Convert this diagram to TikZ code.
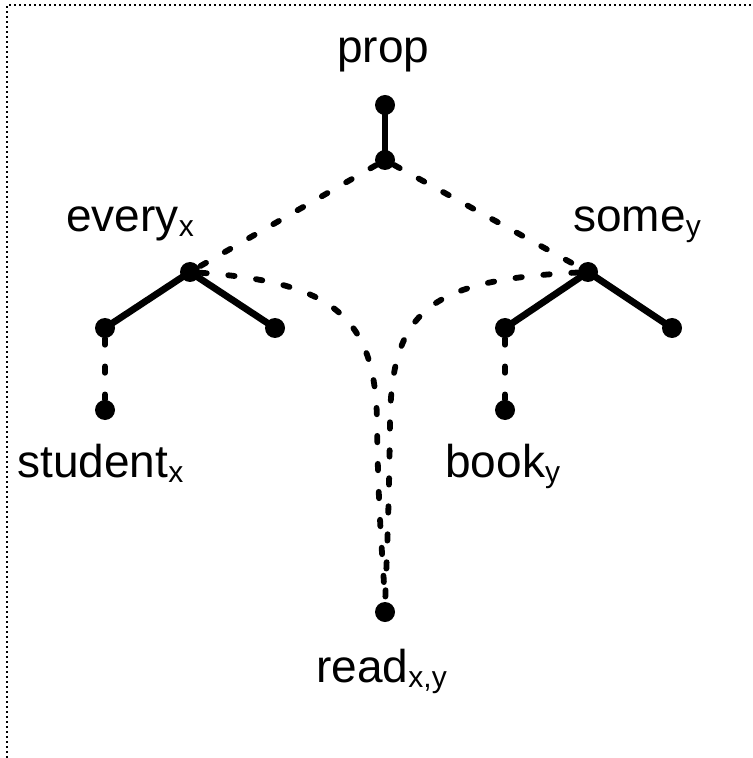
\documentclass[tikz,border=0pt]{standalone}
\usepackage{fontspec}
\setsansfont{Liberation Sans}
\usepackage{tikz}
\usetikzlibrary{positioning, calc}

\newcommand{\lblsub}[1]{\raisebox{-2.5pt}{\fontsize{15}{15}\selectfont #1}}

\begin{document}
\begin{tikzpicture}[
  x=0.5pt, y=-0.5pt,
  font=\sffamily\fontsize{23}{27}\selectfont,
  dot/.style={circle, fill=black, inner sep=0pt, minimum size=10pt},
  lbl/.style={inner sep=0pt, anchor=base west},
  solidedge/.style={line width=3.4pt},
  dashedge/.style={line width=2.9pt, line cap=round,
    dash pattern=on 3.2pt off 10.8pt},
  frame/.style={line width=1pt, dash pattern=on 1pt off 1.5pt},
]
  \useasboundingbox (0,0) rectangle (752,758);
  \draw[frame] (7,758) -- (7,5) -- (752,5);

  % quantifier tree
  \node[dot] (top)   at (385,105) {};
  \node[dot] (hub)   at (385,160) {};
  \node[dot] (every) at (190,272) {};
  \node[dot] (some)  at (588,272) {};
  \node[dot] (ev-l)  at (105,328) {};
  \node[dot] (ev-r)  at (275,328) {};
  \node[dot] (so-l)  at (505,328) {};
  \node[dot] (so-r)  at (672,328) {};
  \node[dot] (student) at (105,410) {};
  \node[dot] (book)  at (505,410) {};
  \node[dot] (read)  at (385,612) {};

  \node[lbl] (prop-lbl)    at (337,63)  {prop};
  \node[lbl] (every-lbl)   at (66,232)  {every\lblsub{x}};
  \node[lbl] (some-lbl)    at (573,232) {some\lblsub{y}};
  \node[lbl] (student-lbl) at (17,477)  {student\lblsub{x}};
  \node[lbl] (book-lbl)    at (445,477) {book\lblsub{y}};
  \node[lbl] (read-lbl)    at (316,682) {read\lblsub{x,y}};

  \foreach \a/\b in {top/hub, every/ev-l, every/ev-r, some/so-l, some/so-r}
    \draw[solidedge] (\a.center) -- (\b.center);

  \foreach \a/\b in {hub/every, hub/some, ev-l/student, so-l/book}
    \draw[dashedge] (\a) -- (\b);

  \draw[dashedge] (every) .. controls (330,282) and (375,315) .. (377,420)
    .. controls (378,520) and (384,570) .. (read);
  \draw[dashedge] (some) .. controls (430,280) and (392,310) .. (390,420)
    .. controls (389,520) and (386,570) .. (read);
\end{tikzpicture}
\end{document}
